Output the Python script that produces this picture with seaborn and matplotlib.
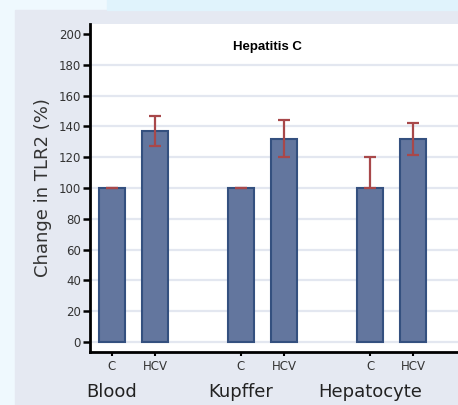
import pandas as pd
import matplotlib
matplotlib.use('Agg')
import matplotlib.pyplot as plt
import matplotlib.patches as mpatches
import seaborn as sns

# values
tissues = ['Blood', 'Kupffer', 'Hepatocyte']
groups = ['C', 'HCV']
means = [100, 137, 100, 132, 100, 132]
err_low = [0, 10, 0, 12, 0, 10.5]
err_high = [0, 10, 0, 12, 20, 10]

df = pd.DataFrame({
    'tissue': [t for t in tissues for g in groups],
    'group': [g for t in tissues for g in groups],
    'value': means,
})

sns.set_style('white')
plt.rcParams['font.family'] = ['DejaVu Sans']

fig = plt.figure(figsize=(4.58, 4.05), dpi=100, facecolor='#eff9fe')
# light panel behind the plot
fig.patches.append(mpatches.Rectangle((15 / 458, 0), 1, 1 - 10 / 405,
                                      transform=fig.transFigure, color='#e5e9f2', zorder=-2))
fig.patches.append(mpatches.Rectangle((107 / 458, 1 - 10 / 405), 1, 1,
                                      transform=fig.transFigure, color='#e0f3fc', zorder=-2))

ax = fig.add_axes([90 / 458, 1 - 352 / 405, 1 - 90 / 458, 328 / 405])
ax.set_facecolor('white')

bar_color = '#63769e'
sns.barplot(data=df, x='tissue', y='value', hue='group', order=tissues, hue_order=groups,
            palette=[bar_color, bar_color], width=0.667, gap=0.395, errorbar=None,
            legend=False, edgecolor='#34507f', linewidth=1.5, saturation=1, ax=ax, zorder=2)

bars = sorted(ax.patches, key=lambda p: p.get_x())
xs = [p.get_x() + p.get_width() / 2 for p in bars]
ax.errorbar(xs, means, yerr=[err_low, err_high], fmt='none', ecolor='#a8484a',
            elinewidth=1.6, capsize=4.5, capthick=1.6, zorder=3)

ax.set_xlim(-0.337, 2.515)
ax.set_ylim(-6.5, 206.5)
ax.set_yticks(range(0, 201, 20))
ax.set_xticks(xs)
ax.set_xticklabels(groups * 3)

ax.grid(axis='y', color='#e3e7f0', linewidth=1.6, zorder=0)
ax.get_ygridlines()[-1].set_visible(False)
ax.set_axisbelow(True)

for s in ['top', 'right']:
    ax.spines[s].set_visible(False)
for s in ['left', 'bottom']:
    ax.spines[s].set_color('black')
    ax.spines[s].set_linewidth(2)

ax.tick_params(axis='y', direction='out', length=5, width=1.8, color='black',
               labelsize=8.5, labelcolor='#333333', pad=1.5, left=True)
ax.tick_params(axis='x', direction='out', length=3, width=1.5, color='black',
               labelsize=8.5, labelcolor='#333333', pad=3, bottom=True)

ax.set_xlabel('')
ax.set_ylabel('Change in TLR2 (%)', fontsize=13, color='#333333', labelpad=5)

for i, t in enumerate(tissues):
    ax.text(xs[2 * i], -0.122, t, transform=ax.get_xaxis_transform(),
            ha='center', va='center', fontsize=13, color='#222222')

ax.text((267 - 90) / 368, 0.93, 'Hepatitis C', transform=ax.transAxes,
        ha='center', va='center', fontsize=9.5, fontweight='bold', color='black',
        family=['Liberation Sans', 'DejaVu Sans'])

fig.savefig('out.png', dpi=100, facecolor=fig.get_facecolor())
